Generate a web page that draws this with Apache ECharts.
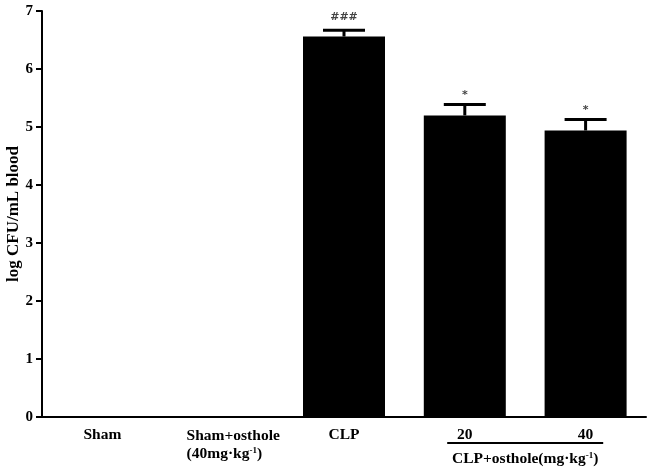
<!DOCTYPE html>
<html>
<head>
<meta charset="utf-8">
<script src="https://cdn.jsdelivr.net/npm/echarts@6/dist/echarts.min.js"></script>
<style>
  html, body { margin: 0; padding: 0; background: #fff; }
  #main { width: 650px; height: 470px; }
</style>
</head>
<body>
<div id="main"></div>
<script>
  // groups on the x axis
  const categories = ['Sham', 'Sham+osthole', 'CLP', '20', '40'];
  // log CFU/mL blood, mean and error
  const means = [0, 0, 6.56, 5.20, 4.94];
  const errors = [0, 0, 0.11, 0.19, 0.19];
  const marks = ['', '', '###', '*', '*'];
  const yTicks = [0, 1, 2, 3, 4, 5, 6, 7];
  // the two dose bars share one bracket label
  const doseGroup = [3, 4];

  const serif = '"Liberation Serif", "DejaVu Serif", serif';
  let myChart = echarts.init(document.getElementById('main'));

  let option = {
    backgroundColor: '#fff',
    animation: false,
    grid: {
      left: 42,
      right: 4,
      top: 11,
      bottom: 53,
      outerBoundsMode: 'none'
    },
    xAxis: {
      type: 'category',
      data: categories,
      axisLine: { lineStyle: { color: '#000', width: 2 } },
      axisTick: { show: false },
      axisLabel: {
        interval: 0,
        margin: 10,
        color: '#000',
        fontFamily: serif,
        fontWeight: 'bold',
        fontSize: 15.5,
        formatter: function (val) {
          if (val === 'Sham+osthole') {
            // two lines, left aligned like the original
            return '{a|Sham+osthole}\n{a|(40mg·kg}{sup|-1}{l|)}';
          }
          return val;
        },
        rich: {
          a: { fontFamily: serif, fontWeight: 'bold', fontSize: 15.5, color: '#000', lineHeight: 18, align: 'left', padding: [0, 0, 0, 20] },
          l: { fontFamily: serif, fontWeight: 'bold', fontSize: 15.5, color: '#000', lineHeight: 18, align: 'left' },
          sup: { fontFamily: serif, fontWeight: 'bold', fontSize: 9, color: '#000', align: 'left', padding: [0, 0, 7, 0] }
        }
      }
    },
    yAxis: {
      type: 'value',
      min: yTicks[0],
      max: yTicks[yTicks.length - 1],
      interval: 1,
      name: 'log CFU/mL blood',
      nameLocation: 'middle',
      nameGap: 20,
      nameMoveOverlap: false,
      nameTextStyle: {
        color: '#000',
        fontFamily: serif,
        fontWeight: 'bold',
        fontSize: 17
      },
      splitLine: { show: false },
      axisLine: { show: true, lineStyle: { color: '#000', width: 2 } },
      axisTick: { show: true, inside: false, length: 6, lineStyle: { color: '#000', width: 2 } },
      axisLabel: {
        margin: 9,
        color: '#000',
        fontFamily: serif,
        fontWeight: 'bold',
        fontSize: 15
      }
    },
    series: [
      {
        name: 'mean',
        type: 'bar',
        data: means,
        barWidth: 82,
        itemStyle: { color: '#000' }
      },
      {
        name: 'error',
        type: 'custom',
        z: 3,
        data: means.map((m, i) => [i, m, errors[i]]),
        renderItem: function (params, api) {
          const i = api.value(0);
          const m = api.value(1);
          const e = api.value(2);
          if (!e) return null;
          const base = api.coord([i, m]);
          const top = api.coord([i, m + e]);
          const half = 21;
          const mark = marks[params.dataIndex];
          return {
            type: 'group',
            children: [
              {
                type: 'line',
                shape: { x1: base[0], y1: base[1], x2: top[0], y2: top[1] },
                style: { stroke: '#000', lineWidth: 3 }
              },
              {
                type: 'line',
                shape: { x1: top[0] - half, y1: top[1], x2: top[0] + half, y2: top[1] },
                style: { stroke: '#000', lineWidth: 3 }
              },
              {
                type: 'text',
                style: {
                  text: mark,
                  x: top[0],
                  y: top[1] - (mark === '*' ? 4 : 7),
                  align: 'center',
                  verticalAlign: 'bottom',
                  fontFamily: '"DejaVu Sans", sans-serif',
                  fontWeight: 'bold',
                  fontSize: 11,
                  fill: '#444'
                }
              }
            ]
          };
        }
      },
      {
        name: 'bracket',
        type: 'custom',
        data: [[doseGroup[0], 0]],
        renderItem: function (params, api) {
          const a = api.coord([doseGroup[0], 0]);
          const b = api.coord([doseGroup[1], 0]);
          const mid = (a[0] + b[0]) / 2;
          const half = 78;
          return {
            type: 'group',
            children: [
              {
                type: 'line',
                shape: { x1: mid - half, y1: a[1] + 26, x2: mid + half, y2: a[1] + 26 },
                style: { stroke: '#000', lineWidth: 2 }
              },
              {
                type: 'text',
                style: {
                  text: '{l|CLP+osthole(mg·kg}{sup|-1}{l|)}',
                  x: mid,
                  y: a[1] + 42,
                  align: 'center',
                  verticalAlign: 'middle',
                  rich: {
                    l: { fontFamily: serif, fontWeight: 'bold', fontSize: 15.5, fill: '#000' },
                    sup: { fontFamily: serif, fontWeight: 'bold', fontSize: 9, fill: '#000', padding: [0, 0, 7, 0] }
                  }
                }
              }
            ]
          };
        }
      }
    ]
  };
  myChart.setOption(option);

  // outside tick marks on the y axis, placed through the axis scale
  const axisX = myChart.convertToPixel({ xAxisIndex: 0 }, 0) - myChart.getModel().getComponent('xAxis', 0).axis.getBandWidth() / 2;
  myChart.setOption({
    graphic: yTicks.map(t => ({
      type: 'line',
      z: 100,
      shape: {
        x1: axisX - 6,
        y1: myChart.convertToPixel({ yAxisIndex: 0 }, t),
        x2: axisX,
        y2: myChart.convertToPixel({ yAxisIndex: 0 }, t)
      },
      style: { stroke: '#000', lineWidth: 2 }
    }))
  });
</script>
</body>
</html>
